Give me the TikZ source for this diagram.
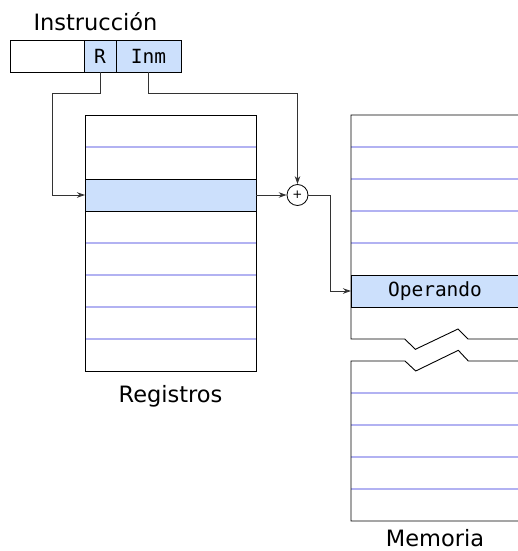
\documentclass[tikz,border=0pt]{standalone}
\usepackage{fontspec}
\setmainfont{DejaVu Sans}
\newfontfamily\monofont{DejaVu Sans Mono}
\usetikzlibrary{arrows.meta,positioning,calc}
\definecolor{cellblue}{RGB}{204,224,252}
\definecolor{rowline}{RGB}{178,178,242}

\begin{document}
\begin{tikzpicture}[x=1pt, y=-1pt,
    cell/.style={rectangle, minimum height=32pt, inner sep=0pt, outer sep=0pt},
    field/.style={cell, draw=black, line width=0.9pt, fill=#1, font=\monofont\fontsize{19.5}{23}\selectfont},
    row/.style={cell, minimum width=#1},
    frame/.style={draw=black, line width=0.9pt},
    separator/.style={draw=rowline, line width=1.2pt},
    connection/.style={-{Stealth[length=8pt, width=5.5pt]}, line width=0.9pt, black!80},
    box label/.style={font=\fontsize{22.5}{27}\selectfont, anchor=base}
]

\useasboundingbox (0,0) rectangle (517,551);

% Instruction
\node[box label] (instlbl) at (95.5,30.7) {Instrucción};
\node[field=white, minimum width=74pt, anchor=north west] (blank) at (10,40) {};
\node[field=cellblue, minimum width=32pt, right=0pt of blank] (R) {R};
\node[field=cellblue, minimum width=65pt, right=0pt of R] (Inm) {Inm};

% Registers
\foreach \i in {1,...,8}
    \node[row=171pt, anchor=north west] (reg\i) at (85,{115+32*(\i-1)}) {};
\foreach \i in {1,4,5,6,7}
    \draw[separator] (reg\i.south west) -- (reg\i.south east);
\draw[frame, fill=cellblue] (reg3.north west) rectangle (reg3.south east);
\draw[frame] (reg1.north west) rectangle (reg8.south east);
\node[box label] (reglbl) at (170.5,402) {Registros};

% Memory, upper part
\foreach \i in {1,...,7}
    \node[row=168pt, anchor=north west] (mem\i) at (351,{115+32*(\i-1)}) {};
\foreach \i in {1,...,4}
    \draw[separator] (mem\i.south west) -- (mem\i.south east);
\draw[frame, fill=cellblue] (mem6.north west) rectangle (mem6.south east);
\node[font=\monofont\fontsize{19.5}{23}\selectfont] (opnd) at (mem6) {Operando};
\draw[frame] (mem7.south west) -- (mem1.north west) -- (mem1.north east) -- (mem7.south east)
    -- ++(-51,0) -- ++(-10,-10) -- ++(-42.6,20.3) -- ++(-10.7,-10.3) -- cycle;

% Memory, lower part
\foreach \i in {1,...,5}
    \node[row=168pt, anchor=north west] (low\i) at (351,{361+32*(\i-1)}) {};
\foreach \i in {1,...,4}
    \draw[separator] (low\i.south west) -- (low\i.south east);
\draw[frame] (low1.north west) -- ++(54,0) -- ++(10.7,10) -- ++(42.6,-20.7) -- ++(10,10.7)
    -- (low1.north east) -- (low5.south east) -- (low5.south west) -- cycle;
\node[box label] (memlbl) at (435,546.5) {Memoria};

% Adder
\node[circle, draw, line width=0.8pt, minimum size=21pt, inner sep=0pt,
    font=\fontsize{12}{12}\selectfont] (sum) at (297.5,195) {+};

% Connections
\coordinate (busR) at (52,93);
\draw[connection] (R.south) |- (busR) |- (reg3.west);
\draw[connection] (Inm.south) |- (sum.north |- busR) -- (sum.north);
\draw[connection] (reg3.east) -- (sum.west);
\draw[connection] (sum.east) -- ++(22,0) |- (mem6.west);

\end{tikzpicture}
\end{document}
